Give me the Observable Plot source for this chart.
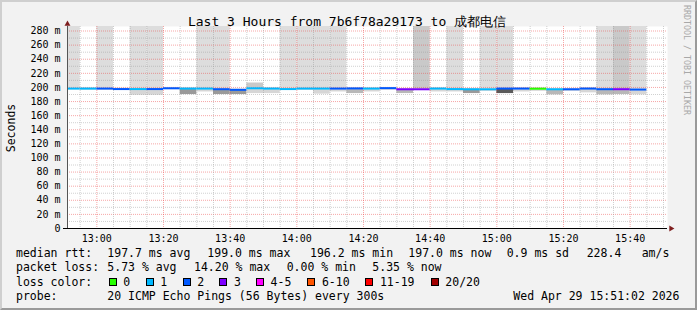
<!DOCTYPE html>
<html><head><meta charset="utf-8">
<script src="https://cdn.jsdelivr.net/npm/d3@7"></script>
<script src="https://cdn.jsdelivr.net/npm/@observablehq/plot@0.6"></script>
<style>
html,body{margin:0;padding:0;background:#fff;}
#chart{position:relative;width:697px;height:310px;background:#f2f2f2;overflow:hidden;font-family:'DejaVu Sans Mono',monospace;color:#000;}
#chart svg{position:absolute;left:0;top:0;}
#frame{position:absolute;left:0;top:0;width:697px;height:310px;box-sizing:border-box;border-top:2px solid #cfcfcf;border-left:2px solid #cfcfcf;border-right:2px solid #9a9a9a;border-bottom:2px solid #9a9a9a;pointer-events:none;}
.t{position:absolute;white-space:pre;font-size:11.5px;line-height:14px;}
.box{position:absolute;width:8px;height:8px;box-sizing:border-box;border:1px solid #000;}
</style>
</head><body>
<div id="chart"></div>
<script>
// ---- data ----
const titleText = "Last 3 Hours from 7b6f78a29173 to 成都电信";
const yTicks = [0, 20, 40, 60, 80, 100, 120, 140, 160, 180, 200, 220, 240, 260, 280];
const timeLabels = ["13:00", "13:20", "13:40", "14:00", "14:20", "14:40", "15:00", "15:20", "15:40"];
const stepStart = ["12:50","12:55","13:00","13:05","13:10","13:15","13:20","13:25","13:30","13:35",
  "13:40","13:45","13:50","13:55","14:00","14:05","14:10","14:15","14:20","14:25",
  "14:30","14:35","14:40","14:45","14:50","14:55","15:00","15:05","15:10","15:15",
  "15:20","15:25","15:30","15:35","15:40"];
const medianRtt = [198.4,198.4,198.4,197.7,197.7,197.7,198.8,198.4,198.4,197.5,
  196.6,198.8,198.4,197.7,198.4,198.4,198.4,198.6,198.4,199.0,
  197.4,197.4,198.4,197.7,197.4,197.4,198.4,198.4,198.2,197.4,
  197.4,198.4,197.5,197.5,197.0];
const lossPings = [1,1,2,2,1,2,2,1,1,2, 2,1,1,1,1,1,2,2,1,2, 3,3,1,1,1,1,2,2,0,1, 2,2,2,3,2];
const smokeMax = [320,199.5,320,199,320,320,200,199.5,320,320,
  198,206.3,199.5,320,320,320,320,199.5,199.5,200,
  198.5,320,199.5,320,198.5,320,320,199.5,199.5,198.5,
  198.5,199.5,320,320,320];
const smokeMin = [196.5,196.0,196.0,196.0,188.9,188.9,197.0,189.9,193.6,189.9,
  189.9,191.3,191.3,196.0,196.0,190.5,193.6,191.3,193.6,196.0,
  191.3,196.0,193.6,193.6,191.3,194.5,191.3,193.6,194.5,189.5,
  194.5,192.3,189.5,189.9,189.5];
const upperDensity = [1,1,1,1,1,1,1,1,1,1, 1,2,1,1,1,1,1,1,1,1, 1,2,1,1,1,1,1,1,1,1, 1,1,1,2,1];
const lowerDensity = [1,1,1,1,1,1,1,3,1,3, 3,1,1,1,1,1,1,2,1,1, 2,1,1,1,3,1,4,1,1,2, 1,1,2,2,1];
const lossLabels = ["0", "1", "2", "3", "4-5", "6-10", "11-19", "20/20"];
const lossColors = ["#26ff00", "#00b8ff", "#0059ff", "#7e00ff", "#ff00ff", "#ff5500", "#ff0000", "#a10000"];
const statsRtt = ["median rtt:", "197.7 ms avg", "199.0 ms max", "196.2 ms min", "197.0 ms now", "0.9 ms sd", "228.4", "am/s"];
const statsLoss = ["packet loss:", "5.73 % avg", "14.20 % max", "0.00 % min", "5.35 % now"];
const probeRow = ["probe:", "20 ICMP Echo Pings (56 Bytes) every 300s", "Wed Apr 29 15:51:02 2026"];

// ---- build ----
const day = "2026-04-29T";
const T = s => new Date(day + (s.length === 5 ? s + ":00" : s) + "Z");
const t0 = T("12:51:12"), t1 = T("15:51:12");
const yMax = 286.4;
const cols = stepStart.map((s, i) => {
  const a = T(s);
  return {a, b: new Date(+a + 300000), med: medianRtt[i], loss: lossPings[i],
    hi: smokeMax[i], lo: smokeMin[i], up: upperDensity[i], dn: lowerDensity[i]};
});
function lossIndex(n) { return n <= 3 ? n : n <= 5 ? 4 : n <= 10 ? 5 : n <= 19 ? 6 : 7; }
const upFill = {1: "#dddddd", 2: "#c9c9c9"};
const dnFill = {1: "#d6d6d6", 2: "#b8b8b8", 3: "#9a9a9a", 4: "#5a5a5a"};

const fiveMin = [];
for (let m = T("12:55"); m <= t1; m = new Date(+m + 300000)) fiveMin.push(m);
const majorX = timeLabels.map(T);
const minorX = fiveMin.filter(d => d.getUTCMinutes() % 20 !== 0);
const majorY = yTicks.filter(v => v > 0);
const minorY = majorY.map(v => v - 10);

const gridMinor = "rgba(150,150,150,0.45)";
const gridMajor = "rgba(235,60,60,0.45)";

const plot = Plot.plot({
  width: 697, height: 310,
  marginLeft: 67, marginRight: 30, marginTop: 26, marginBottom: 82,
  style: {background: "transparent", fontFamily: "'DejaVu Sans Mono', monospace", fontSize: "10px", color: "#000", overflow: "visible"},
  x: {type: "utc", domain: [t0, t1]},
  y: {domain: [0, yMax]},
  marks: [
    Plot.frame({fill: "#fff", stroke: "none"}),
    Plot.rect(cols, {x1: "a", x2: "b", y1: "med", y2: "hi", fill: d => upFill[d.up], clip: true}),
    Plot.rect(cols, {x1: "a", x2: "b", y1: "lo", y2: "med", fill: d => dnFill[d.dn], clip: true}),
    Plot.ruleY(minorY, {stroke: gridMinor, strokeDasharray: "1,1"}),
    Plot.ruleY(majorY, {stroke: gridMajor, strokeDasharray: "1,1"}),
    Plot.ruleX(minorX, {stroke: gridMinor, strokeDasharray: "1,1"}),
    Plot.ruleX(majorX, {stroke: gridMajor, strokeDasharray: "1,1"}),
    Plot.ruleY(cols, {x1: "a", x2: "b", y: "med", stroke: d => lossColors[lossIndex(d.loss)], strokeWidth: 2, clip: true}),
    Plot.ruleX([t0], {stroke: "#555"}),
    Plot.ruleY([0], {stroke: "#000", insetLeft: -4}),
    Plot.dot([{x: t1, y: 0}], {x: "x", y: "y", symbol: "triangle", rotate: 90, r: 2.2, fill: "#7f1f1f", stroke: "none", dx: 3.5}),
    Plot.dot([{x: t0, y: yMax}], {x: "x", y: "y", symbol: "triangle", r: 2.2, fill: "#7f1f1f", stroke: "none", dy: -2.5}),
    Plot.axisY(yTicks, {tickSize: 0, tickPadding: 7, label: null, fontSize: 10, tickFormat: d => d === 0 ? "0" : d + " m"}),
    Plot.axisX(majorX, {tickSize: 0, tickPadding: 6, label: null, fontSize: 10, tickFormat: d3.utcFormat("%H:%M")})
  ]
});
const chart = document.getElementById("chart");
chart.appendChild(plot);

function addText(txt, left, top, extra) {
  const d = document.createElement("div");
  d.className = "t";
  d.textContent = txt;
  d.style.left = left + "px";
  d.style.top = top + "px";
  if (extra) Object.assign(d.style, extra);
  chart.appendChild(d);
  return d;
}
// title
addText(titleText, 0, 14.2, {width: "694px", textAlign: "center", fontSize: "13px", lineHeight: "16px"});
// y label
addText("Seconds", 11 - 50, 128 - 7, {width: "100px", textAlign: "center", transform: "rotate(-90deg)"});
// credit
addText("RRDTOOL / TOBI OETIKER", 687 - 60, 60 - 5, {width: "120px", textAlign: "center", fontSize: "8.3px", lineHeight: "10px", color: "#a8a8a8", transform: "rotate(90deg)"});

// legend rows
const rttX = [16, 107.3, 207.3, 310, 408.3, 506.7, 586.7, 641.7];
statsRtt.forEach((s, i) => addText(s, rttX[i], 246.3));
const lossX = [16, 107.3, 194, 286.7, 372.3];
statsLoss.forEach((s, i) => addText(s, lossX[i], 260.3));
addText("loss color:", 16, 274.7);
const boxX = [108.7, 145.7, 182.7, 219.3, 256, 307.3, 365.3, 430.7];
lossLabels.forEach((s, i) => {
  const b = document.createElement("div");
  b.className = "box";
  b.style.left = boxX[i] + "px";
  b.style.top = "278px";
  b.style.background = lossColors[i];
  chart.appendChild(b);
  addText(s, boxX[i] + 14.6, 274.7);
});
const probeX = [16, 107.3, 513.3];
probeRow.forEach((s, i) => addText(s, probeX[i], 289));

const fr = document.createElement("div");
fr.id = "frame";
chart.appendChild(fr);
</script>
</body></html>
